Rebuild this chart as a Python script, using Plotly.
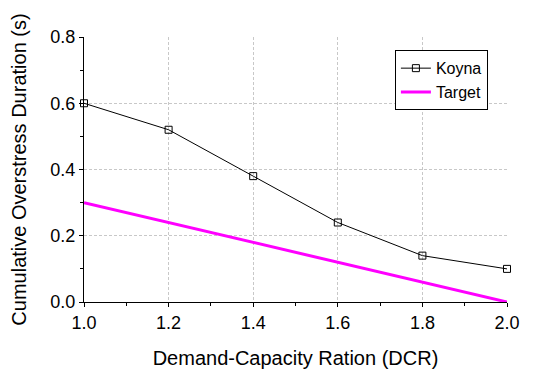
import plotly.graph_objects as go

dcr = [1.0, 1.2, 1.4, 1.6, 1.8, 2.0]
koyna = [0.60, 0.52, 0.38, 0.24, 0.14, 0.10]
target = [0.30, 0.24, 0.18, 0.12, 0.06, 0.00]

font = "Liberation Sans, Arial, Helvetica, sans-serif"

fig = go.Figure()
fig.add_trace(go.Scatter(
    x=dcr, y=koyna, name="Koyna", mode="lines+markers",
    line=dict(color="black", width=1),
    marker=dict(symbol="square-open", size=7, color="black", line=dict(width=1)),
    cliponaxis=False,
))
fig.add_trace(go.Scatter(
    x=dcr, y=target, name="Target", mode="lines",
    line=dict(color="#ff00ff", width=3),
    cliponaxis=False,
))

axis_common = dict(
    showline=True, linecolor="black", linewidth=1,
    ticks="outside", ticklen=4, tickcolor="black",
    showgrid=True, gridcolor="#c8c8c8", gridwidth=1, griddash="3px,2px",
    zeroline=False, mirror=False, automargin=False,
    tickfont=dict(family=font, size=18, color="black"),
)

fig.update_xaxes(
    range=[1.0, 2.0], dtick=0.2, tickformat=".1f",
    minor=dict(dtick=0.1, ticks="outside", ticklen=3, tickcolor="black", showgrid=False),
    title=dict(text="Demand-Capacity Ration (DCR)", font=dict(family=font, size=20, color="black"), standoff=19),
    **axis_common,
)
fig.update_yaxes(
    range=[0.0, 0.8], dtick=0.2, tickformat=".1f",
    minor=dict(dtick=0.1, ticks="outside", ticklen=3, tickcolor="black", showgrid=False),
    title=dict(text="Cumulative Overstress Duration (s)", font=dict(family=font, size=20, color="black"), standoff=18),
    **axis_common,
)

fig.update_layout(
    width=542, height=369,
    margin=dict(l=84, r=35, t=37, b=67),
    paper_bgcolor="white", plot_bgcolor="white",
    showlegend=True,
    legend=dict(
        x=0.735, y=0.95, xanchor="left", yanchor="top",
        bgcolor="white", bordercolor="black", borderwidth=1,
        font=dict(family=font, size=16, color="black"),
        itemwidth=30, tracegroupgap=0,
    ),
)

fig.write_html("out.html")
